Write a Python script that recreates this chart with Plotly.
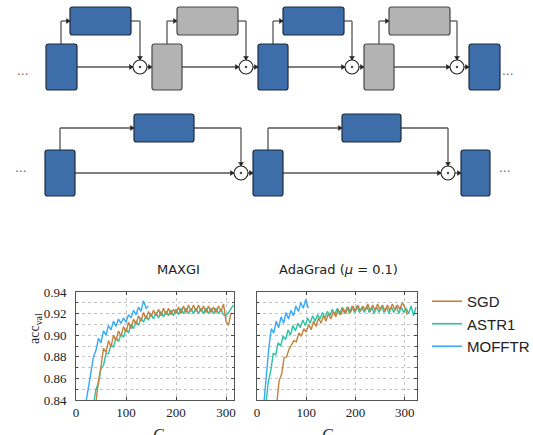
import plotly.graph_objects as go

W, H = 533, 435

# ---------------- data ----------------
C_MOFFTR_L = list(range(20, 146, 5))
MOFFTR_L = [0.838, 0.853, 0.866, 0.880, 0.886, 0.897, 0.893, 0.904, 0.900, 0.909, 0.905, 0.913, 0.908,
            0.915, 0.911, 0.916, 0.912, 0.919, 0.916, 0.923, 0.919, 0.926, 0.922, 0.932, 0.925, 0.927]
C_SGD_L = list(range(40, 311, 5))
SGD_L = [0.838, 0.858, 0.871, 0.888, 0.884, 0.895, 0.889, 0.900, 0.895, 0.904, 0.899, 0.908, 0.903, 0.912,
         0.906, 0.915, 0.910, 0.918, 0.913, 0.921, 0.915, 0.922, 0.917, 0.923, 0.918, 0.924, 0.918, 0.925,
         0.919, 0.925, 0.919, 0.924, 0.920, 0.926, 0.920, 0.927, 0.921, 0.928, 0.922, 0.928, 0.922, 0.928,
         0.922, 0.927, 0.921, 0.927, 0.921, 0.926, 0.921, 0.927, 0.922, 0.929, 0.913, 0.909, 0.921]
C_ASTR1_L = list(range(35, 316, 5))
ASTR1_L = [0.836, 0.850, 0.856, 0.869, 0.872, 0.883, 0.883, 0.891, 0.889, 0.898, 0.894, 0.901, 0.898, 0.906,
           0.902, 0.910, 0.906, 0.913, 0.909, 0.916, 0.912, 0.918, 0.914, 0.920, 0.915, 0.921, 0.916, 0.922,
           0.917, 0.922, 0.918, 0.923, 0.918, 0.924, 0.919, 0.925, 0.920, 0.925, 0.920, 0.925, 0.920, 0.925,
           0.920, 0.925, 0.920, 0.925, 0.920, 0.925, 0.920, 0.925, 0.920, 0.924, 0.919, 0.918, 0.921, 0.924, 0.928]

C_MOFFTR_R = list(range(14, 105, 5))
MOFFTR_R = [0.837, 0.866, 0.888, 0.906, 0.902, 0.913, 0.907, 0.917, 0.911, 0.921, 0.915, 0.923, 0.918,
            0.927, 0.922, 0.930, 0.925, 0.933, 0.925]
C_ASTR1_R = list(range(18, 324, 5))
ASTR1_R = [0.836, 0.857, 0.867, 0.883, 0.882, 0.893, 0.890, 0.899, 0.896, 0.905, 0.900, 0.909, 0.904, 0.911,
           0.907, 0.914, 0.909, 0.916, 0.911, 0.918, 0.913, 0.919, 0.915, 0.921, 0.916, 0.922, 0.918, 0.924,
           0.919, 0.925, 0.919, 0.926, 0.920, 0.926, 0.920,
           0.927, 0.921, 0.927, 0.921, 0.926, 0.921, 0.927, 0.921, 0.926, 0.920, 0.926, 0.921, 0.927, 0.921,
           0.926, 0.920, 0.926, 0.921, 0.927, 0.920, 0.926, 0.921, 0.925, 0.920, 0.927, 0.918, 0.926]
C_SGD_R = list(range(40, 306, 5))
SGD_R = [0.836, 0.858, 0.864, 0.879, 0.880, 0.887, 0.891, 0.895, 0.894, 0.902, 0.899, 0.906, 0.903, 0.910,
         0.905, 0.913, 0.908, 0.916, 0.911, 0.918, 0.913, 0.920, 0.915, 0.922, 0.917, 0.924, 0.919, 0.925,
         0.920, 0.926, 0.921,
         0.927, 0.922, 0.928, 0.922, 0.927, 0.923, 0.929, 0.922, 0.928, 0.923, 0.929, 0.923, 0.928, 0.922,
         0.928, 0.923, 0.929, 0.923, 0.928, 0.924, 0.930, 0.926, 0.919]

SERIES = ["SGD", "ASTR1", "MOFFTR"]
COLORS = {"SGD": "#C4823F", "ASTR1": "#2CC2A6", "MOFFTR": "#36A9FA"}
X_TICKS = [0, 100, 200, 300]
Y_TICKS = [0.84, 0.86, 0.88, 0.90, 0.92, 0.94]
Y_TICK_TEXT = ["0.84", "0.86", "0.88", "0.90", "0.92", "0.94"]
TITLES = ["MAXGI", "AdaGrad (<i>μ</i> = 0.1)"]

# ---------------- helpers (pixel -> paper) ----------------
def X(px):
    return px / W

def Y(py):
    return 1 - py / H

shapes = []
annotations = []

BLUE_FILL, BLUE_LINE = "#3D6EAA", "#1E2B3C"
GRAY_FILL, GRAY_LINE = "#B3B3B3", "#474747"
CONN = "#555555"

def rrect(x0, y0, x1, y1, fill, line, r=2.5):
    rx, ry = r / W, r / H
    a, b, c, d = X(x0), Y(y0), X(x1), Y(y1)
    p = (f"M{a+rx},{b} L{c-rx},{b} Q{c},{b} {c},{b-ry} L{c},{d+ry} Q{c},{d} {c-rx},{d} "
         f"L{a+rx},{d} Q{a},{d} {a},{d+ry} L{a},{b-ry} Q{a},{b} {a+rx},{b} Z")
    shapes.append(dict(type="path", xref="paper", yref="paper", path=p, fillcolor=fill,
                       line=dict(color=line, width=1.2), layer="above"))

def seg(x0, y0, x1, y1, color=CONN, w=1.3):
    shapes.append(dict(type="line", xref="paper", yref="paper", x0=X(x0), y0=Y(y0), x1=X(x1), y1=Y(y1),
                       line=dict(color=color, width=w), layer="above"))

def arrow_head(x, y, direction, s=3.5, color="#222222"):
    if direction == "right":
        pts = [(x, y), (x - s, y - s * 0.7), (x - s, y + s * 0.7)]
    else:  # down
        pts = [(x, y), (x - s * 0.7, y - s), (x + s * 0.7, y - s)]
    p = "M" + " L".join(f"{X(a)},{Y(b)}" for a, b in pts) + " Z"
    shapes.append(dict(type="path", xref="paper", yref="paper", path=p, fillcolor=color,
                       line=dict(color=color, width=0.5), layer="above"))

def odot(cx, cy, r=7):
    shapes.append(dict(type="circle", xref="paper", yref="paper", x0=X(cx - r), x1=X(cx + r),
                       y0=Y(cy + r), y1=Y(cy - r), fillcolor="white",
                       line=dict(color="#222222", width=1.1), layer="above"))
    shapes.append(dict(type="circle", xref="paper", yref="paper", x0=X(cx - 0.9), x1=X(cx + 0.9),
                       y0=Y(cy + 0.9), y1=Y(cy - 0.9), fillcolor="#222222",
                       line=dict(color="#222222", width=0.5), layer="above"))

def dots(x, y):
    annotations.append(dict(x=X(x), y=Y(y), xref="paper", yref="paper", text="···", showarrow=False,
                            font=dict(size=12, color="#666666", family="DejaVu Sans")))

def row(modules, last, ty0, ty1, uy0, uy1):
    my = (ty0 + ty1) / 2
    uy = (uy0 + uy1) / 2
    for (tx0, tx1, tcol, bx, ux0, ux1, ucol, cx), nxt in zip(modules, [m[0] for m in modules[1:]] + [last[0]]):
        seg(tx1, my, cx - 7, my)
        arrow_head(cx - 7, my, "right")
        seg(bx, ty0, bx, uy)
        seg(bx, uy, ux0, uy)
        arrow_head(ux0, uy, "right")
        seg(ux1, uy, cx, uy)
        seg(cx, uy, cx, my - 7)
        arrow_head(cx, my - 7, "down")
        seg(cx + 7, my, nxt, my)
        arrow_head(nxt, my, "right")
    for (tx0, tx1, tcol, bx, ux0, ux1, ucol, cx) in modules:
        fill, line = (BLUE_FILL, BLUE_LINE) if tcol == "b" else (GRAY_FILL, GRAY_LINE)
        rrect(tx0, ty0, tx1, ty1, fill, line)
        fill, line = (BLUE_FILL, BLUE_LINE) if ucol == "b" else (GRAY_FILL, GRAY_LINE)
        rrect(ux0, uy0, ux1, uy1, fill, line)
        odot(cx, my)
    rrect(last[0], ty0, last[1], ty1, BLUE_FILL, BLUE_LINE)

# top row
row([(46, 77, "b", 61, 70, 131, "b", 140),
     (152, 182, "g", 167, 177, 238, "g", 246),
     (258, 288, "b", 273, 283, 344, "b", 352),
     (364, 394, "g", 379, 389, 450, "g", 457)],
    (469, 500), 44, 90, 7, 35)
dots(15, 66)
dots(515, 66)

# bottom row
row([(45, 75, "b", 60, 134, 194, "b", 241),
     (253, 283, "b", 268, 342, 401, "b", 448)],
    (461, 490), 150, 196, 114, 142)
dots(13, 172)
dots(512, 172)

# ---------------- charts ----------------
fig = go.Figure()
panels = [
    ("x", "y", {"SGD": (C_SGD_L, SGD_L), "ASTR1": (C_ASTR1_L, ASTR1_L), "MOFFTR": (C_MOFFTR_L, MOFFTR_L)}),
    ("x2", "y2", {"SGD": (C_SGD_R, SGD_R), "ASTR1": (C_ASTR1_R, ASTR1_R), "MOFFTR": (C_MOFFTR_R, MOFFTR_R)}),
]
for i, (xa, ya, data) in enumerate(panels):
    for name in ["ASTR1", "SGD", "MOFFTR"]:
        cx, cy = data[name]
        fig.add_trace(go.Scatter(x=cx, y=cy, mode="lines", name=name, xaxis=xa, yaxis=ya,
                                 line=dict(color=COLORS[name], width=1.4),
                                 showlegend=False))
for name in SERIES:
    fig.add_trace(go.Scatter(x=[None], y=[None], mode="lines", name=name, xaxis="x", yaxis="y",
                             line=dict(color=COLORS[name], width=1.6), showlegend=True))

tickfont = dict(family="Liberation Serif", size=13, color="#222222")
grid = dict(showgrid=True, gridcolor="#C4C4C4", griddash="dot", gridwidth=1)
common_x = dict(tickvals=X_TICKS, ticks="inside", ticklen=3, showline=True, linecolor="#555555",
                linewidth=1, mirror="ticks", tickfont=tickfont, zeroline=False, automargin=False, **grid)
common_y = dict(range=[0.84, 0.94], tickvals=Y_TICKS, ticks="inside", ticklen=3,
                showline=True, linecolor="#555555", linewidth=1, mirror="ticks", tickfont=tickfont,
                zeroline=False, automargin=False, ticklabelstandoff=6,
                minor=dict(dtick=0.01, tick0=0.84, showgrid=True, gridcolor="#C4C4C4",
                           griddash="dot", ticks="inside", ticklen=2), **grid)

ytop, ybot = 292, 400
fig.update_layout(
    width=W, height=H, margin=dict(l=0, r=0, t=0, b=0, autoexpand=False),
    paper_bgcolor="white", plot_bgcolor="white",
    xaxis=dict(domain=[X(76), X(234)], range=[0, 316], anchor="y", **common_x),
    yaxis=dict(domain=[Y(ybot), Y(ytop)], anchor="x", ticktext=Y_TICK_TEXT, **common_y),
    xaxis2=dict(domain=[X(257), X(417)], range=[0, 325], anchor="y2", **common_x),
    yaxis2=dict(domain=[Y(ybot), Y(ytop)], anchor="x2", showticklabels=False, **common_y),
    legend=dict(x=X(427), y=Y(285), xanchor="left", yanchor="top", bgcolor="rgba(0,0,0,0)",
                font=dict(family="Liberation Sans", size=15, color="#222222"),
                tracegroupgap=0, itemwidth=30),
    shapes=shapes,
    showlegend=True,
)

for txt, cxp in zip(TITLES, [155, 338]):
    annotations.append(dict(x=X(cxp), y=Y(269), xref="paper", yref="paper", text=txt, showarrow=False,
                            font=dict(family="DejaVu Sans", size=13, color="#222222")))
for cxp in [151, 327]:
    annotations.append(dict(x=X(cxp), y=Y(424), xref="paper", yref="paper", yanchor="top",
                            text="<i>C</i>", showarrow=False,
                            font=dict(family="Liberation Serif", size=16, color="#222222")))
annotations.append(dict(x=X(25), y=Y(346), xref="paper", yref="paper", text="acc<sub>val</sub>",
                        textangle=-90, showarrow=False,
                        font=dict(family="Liberation Serif", size=14, color="#222222")))
fig.update_layout(annotations=annotations)

fig.write_html("out.html", config={"displayModeBar": False},
               post_script="document.body.style.margin='0';document.body.style.padding='0';"
                           "document.body.style.overflow='hidden';")
